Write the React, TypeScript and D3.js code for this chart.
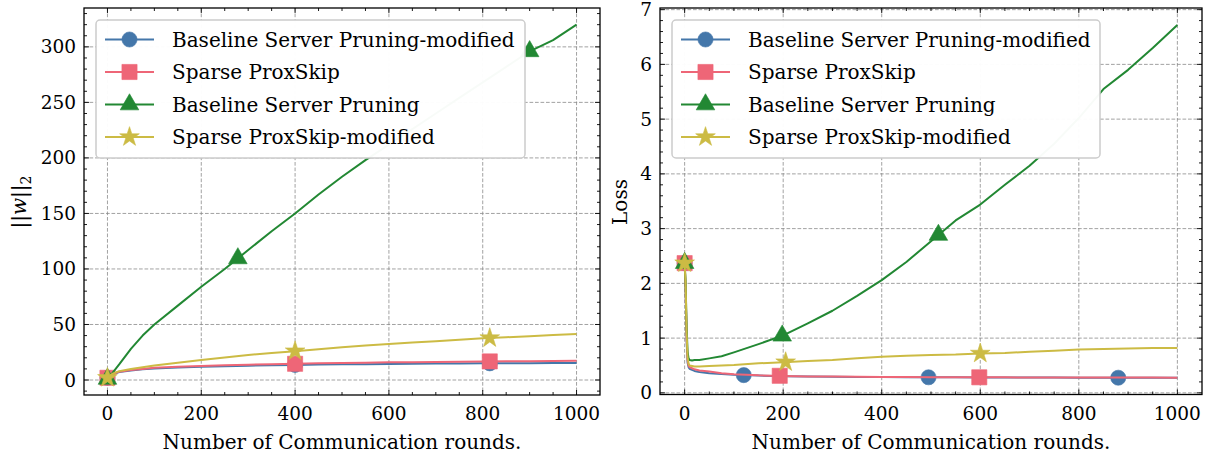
import React from "react";
import * as d3 from "d3";

// ---------- data ----------
const seriesNames = [
  "Baseline Server Pruning-modified",
  "Sparse ProxSkip",
  "Baseline Server Pruning",
  "Sparse ProxSkip-modified",
];
const colors = ["#4477AA", "#EE6677", "#228833", "#CCBB44"];
const symbols = ["circle", "square", "triangle", "star"];

// left panel: ||w||_2
const roundsL = [0, 10, 25, 50, 75, 100, 150, 200, 250, 300, 350, 400, 450, 500, 550, 600, 650, 700, 750, 800, 850, 900, 950, 1000];
const normBlue = [2, 4.8, 7.2, 8.6, 9.6, 10.4, 11.3, 12, 12.5, 12.9, 13.3, 13.6, 13.9, 14.1, 14.3, 14.5, 14.6, 14.8, 14.9, 15, 15.1, 15.2, 15.3, 15.4];
const normPink = [2, 5, 7.5, 9, 10, 11, 12, 12.7, 13.3, 13.8, 14.2, 14.6, 15, 15.3, 15.6, 15.9, 16.1, 16.3, 16.5, 16.7, 16.9, 17, 17.2, 17.3];
const normGreen = [1, 6, 14, 28, 40, 50, 67, 84, 100, 117, 134, 150, 167, 183, 198, 212, 226, 240, 254, 268, 282, 296, 306, 320];
const normYellow = [2, 5.5, 8, 10, 11.5, 13, 15.5, 18, 20.3, 22.5, 24.3, 26, 27.8, 29.5, 31, 32.5, 33.8, 35, 36.3, 37.5, 38.5, 39.5, 40.5, 41.5];
const markersL = [[0, 400, 815], [0, 400, 815], [0, 278, 900], [0, 400, 815]];

// right panel: Loss
const roundsR = [0, 2, 4, 6, 8, 10, 15, 20, 30, 50, 75, 100, 150, 200, 250, 300, 350, 400, 450, 500, 550, 600, 650, 700, 750, 800, 850, 900, 950, 1000];
const lossBlue = [2.37, 1.9, 0.95, 0.55, 0.47, 0.44, 0.42, 0.4, 0.38, 0.36, 0.345, 0.33, 0.315, 0.305, 0.3, 0.295, 0.29, 0.288, 0.286, 0.284, 0.283, 0.282, 0.281, 0.28, 0.279, 0.278, 0.277, 0.276, 0.276, 0.275];
const lossPink = [2.37, 1.9, 1.0, 0.6, 0.5, 0.47, 0.45, 0.43, 0.41, 0.39, 0.36, 0.34, 0.32, 0.31, 0.3, 0.3, 0.295, 0.29, 0.288, 0.286, 0.285, 0.284, 0.283, 0.282, 0.281, 0.28, 0.28, 0.279, 0.279, 0.278];
const lossGreen = [2.37, 2.0, 1.2, 0.75, 0.63, 0.6, 0.59, 0.6, 0.6, 0.63, 0.67, 0.74, 0.89, 1.05, 1.27, 1.5, 1.77, 2.06, 2.39, 2.77, 3.15, 3.44, 3.8, 4.15, 4.55, 5.02, 5.55, 5.9, 6.3, 6.72];
const lossYellow = [2.37, 2.0, 1.1, 0.65, 0.53, 0.5, 0.49, 0.48, 0.48, 0.49, 0.5, 0.51, 0.54, 0.56, 0.58, 0.6, 0.63, 0.66, 0.68, 0.69, 0.7, 0.72, 0.73, 0.75, 0.77, 0.79, 0.8, 0.81, 0.82, 0.82];
const markersR = [[0, 120, 495, 880], [0, 193, 598], [0, 198, 515], [0, 205, 600]];

const xTicks = [0, 200, 400, 600, 800, 1000];
const yTicksL = [0, 50, 100, 150, 200, 250, 300];
const yTicksR = [0, 1, 2, 3, 4, 5, 6, 7];

const FONT = "'DejaVu Serif', serif";

function symbolPath(kind: string) {
  const t =
    kind === "circle" ? d3.symbolCircle :
    kind === "square" ? d3.symbolSquare :
    kind === "triangle" ? d3.symbolTriangle : d3.symbolStar;
  const size = kind === "circle" ? 180 : kind === "square" ? 230 : kind === "triangle" ? 150 : 120;
  return d3.symbol().type(t).size(size)()!;
}

function interp(xs: number[], ys: number[], x: number) {
  const i = Math.max(1, d3.bisectLeft(xs, x));
  if (i >= xs.length) return ys[ys.length - 1];
  const x0 = xs[i - 1], x1 = xs[i];
  const t = (x - x0) / (x1 - x0);
  return ys[i - 1] + t * (ys[i] - ys[i - 1]);
}

type PanelProps = {
  x0: number; x1: number; y0: number; y1: number;
  xDomain: [number, number]; yDomain: [number, number];
  xs: number[]; ys: number[][]; marks: number[][];
  yTicks: number[]; yMinorStep: number;
  yLabel: React.ReactNode;
  legendX: number; legendW: number;
};

function Panel(p: PanelProps) {
  const x = d3.scaleLinear().domain(p.xDomain).range([p.x0, p.x1]);
  const y = d3.scaleLinear().domain(p.yDomain).range([p.y1, p.y0]);
  const line = d3.line<[number, number]>().x(d => x(d[0])).y(d => y(d[1]));
  const xMinor = d3.range(-50, 1051, 50).filter(v => v > p.xDomain[0] + 1e-6 && v < p.xDomain[1] - 1e-6 && v % 200 !== 0);
  const yMinor = d3.range(Math.ceil(p.yDomain[0] / p.yMinorStep) * p.yMinorStep, p.yDomain[1], p.yMinorStep)
    .filter(v => !p.yTicks.some(t => Math.abs(t - v) < 1e-6));
  const MAJ = 5, MIN = 3;
  const tickStroke = { stroke: "#000", strokeWidth: 0.9 };
  const rows = [39.5, 72, 104.5, 137];
  return (
    <g>
      {/* grid */}
      {xTicks.map(t => (
        <line key={"gx" + t} x1={x(t)} x2={x(t)} y1={p.y0} y2={p.y1} stroke="#8a8a8a" strokeWidth={0.8} strokeDasharray="3.7,1.8" />
      ))}
      {p.yTicks.map(t => (
        <line key={"gy" + t} x1={p.x0} x2={p.x1} y1={y(t)} y2={y(t)} stroke="#8a8a8a" strokeWidth={0.8} strokeDasharray="3.7,1.8" />
      ))}
      {/* series */}
      {p.ys.map((vals, si) => (
        <g key={"s" + si}>
          <path d={line(p.xs.map((v, i) => [v, vals[i]] as [number, number]))!} fill="none" stroke={colors[si]} strokeWidth={2} strokeLinejoin="round" />
          {p.marks[si].map(m => (
            <path key={m} d={symbolPath(symbols[si])} transform={`translate(${x(m)},${y(interp(p.xs, vals, m))})`} fill={colors[si]} stroke={colors[si]} strokeOpacity={0.6} strokeWidth={1} />
          ))}
        </g>
      ))}
      {/* ticks */}
      {xTicks.map(t => (
        <g key={"xt" + t}>
          <line x1={x(t)} x2={x(t)} y1={p.y1} y2={p.y1 - MAJ} {...tickStroke} />
          <line x1={x(t)} x2={x(t)} y1={p.y0} y2={p.y0 + MAJ} {...tickStroke} />
          <text x={x(t)} y={p.y1 + 25} textAnchor="middle" fontFamily={FONT} fontSize={18.5} fill="#000">{t}</text>
        </g>
      ))}
      {xMinor.map(t => (
        <g key={"xm" + t}>
          <line x1={x(t)} x2={x(t)} y1={p.y1} y2={p.y1 - MIN} {...tickStroke} />
          <line x1={x(t)} x2={x(t)} y1={p.y0} y2={p.y0 + MIN} {...tickStroke} />
        </g>
      ))}
      {p.yTicks.map(t => (
        <g key={"yt" + t}>
          <line x1={p.x0} x2={p.x0 + MAJ} y1={y(t)} y2={y(t)} {...tickStroke} />
          <line x1={p.x1} x2={p.x1 - MAJ} y1={y(t)} y2={y(t)} {...tickStroke} />
          <text x={p.x0 - 8} y={y(t) + 6.5} textAnchor="end" fontFamily={FONT} fontSize={18.5} fill="#000">{t}</text>
        </g>
      ))}
      {yMinor.map(t => (
        <g key={"ym" + t}>
          <line x1={p.x0} x2={p.x0 + MIN} y1={y(t)} y2={y(t)} {...tickStroke} />
          <line x1={p.x1} x2={p.x1 - MIN} y1={y(t)} y2={y(t)} {...tickStroke} />
        </g>
      ))}
      {/* frame */}
      <rect x={p.x0} y={p.y0} width={p.x1 - p.x0} height={p.y1 - p.y0} fill="none" stroke="#000" strokeWidth={1.3} />
      {/* x label */}
      <text x={(p.x0 + p.x1) / 2} y={449} textAnchor="middle" fontFamily={FONT} fontSize={20} fill="#000">Number of Communication rounds.</text>
      {p.yLabel}
      {/* legend */}
      <rect x={p.legendX} y={20} width={p.legendW} height={138} rx={4} fill="#fff" fillOpacity={0.97} stroke="#cccccc" strokeWidth={1.5} />
      {seriesNames.map((n, i) => (
        <g key={"lg" + i}>
          <line x1={p.legendX + 9} x2={p.legendX + 58} y1={rows[i]} y2={rows[i]} stroke={colors[i]} strokeWidth={2} />
          <path d={symbolPath(symbols[i])} transform={`translate(${p.legendX + 33.5},${rows[i]})`} fill={colors[i]} stroke={colors[i]} strokeOpacity={0.6} strokeWidth={1} />
          <text x={p.legendX + 76} y={rows[i] + 7} fontFamily={FONT} fontSize={20} fill="#000">{n}</text>
        </g>
      ))}
    </g>
  );
}

export default function App() {
  return (
    <svg width={1207} height={457} style={{ position: "absolute", left: 0, top: 0, background: "#fff" }}>
      <rect x={0} y={0} width={1207} height={457} fill="#fff" />
      <Panel
        x0={84} x1={600} y0={8} y1={395}
        xDomain={[-50, 1050]} yDomain={[-13.5, 335]}
        xs={roundsL} ys={[normBlue, normPink, normGreen, normYellow]} marks={markersL}
        yTicks={yTicksL} yMinorStep={10}
        legendX={96} legendW={429}
        yLabel={
          <text transform="translate(26,202) rotate(-90)" textAnchor="middle" fontFamily={FONT} fontSize={20} fill="#000">
            ||<tspan fontStyle="italic">w</tspan>||<tspan fontSize={14} dy={5}>2</tspan>
          </text>
        }
      />
      <Panel
        x0={660} x1={1202} y0={8} y1={394.5}
        xDomain={[-50, 1050]} yDomain={[-0.03, 7.03]}
        xs={roundsR} ys={[lossBlue, lossPink, lossGreen, lossYellow]} marks={markersR}
        yTicks={yTicksR} yMinorStep={0.2}
        legendX={672} legendW={428}
        yLabel={
          <text transform="translate(627,202) rotate(-90)" textAnchor="middle" fontFamily={FONT} fontSize={20} fill="#000">Loss</text>
        }
      />
    </svg>
  );
}
